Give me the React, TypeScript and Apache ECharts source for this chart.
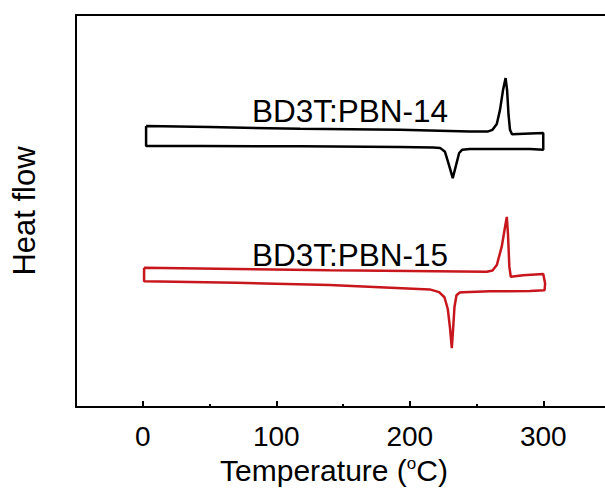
import React, { useEffect, useRef } from "react";
import * as echarts from "echarts";

// Tick values (°C)
const xMajorTicks = [0, 100, 200, 300];
const xMinorTicks = [50, 150, 250];

// BD3T:PBN-14 loop (heating along the upper trace, cooling along the lower trace)
const pbn14Temp = [
  2.5, 50, 117.8, 192.7, 245, 258.7, 262, 265.2, 267.6, 269.9, 271.8, 272.9, 274.0, 275.1, 276.6, 290.1, 300,
  300, 290, 260, 245, 239.2, 237, 234.7, 232.2, 229.4, 226.4, 222.7, 217.5, 192.7, 117.8, 42.9, 2.5, 2.5,
];
const pbn14Flow = [
  71.7, 71.4, 71.0, 70.7, 70.3, 70.3, 70.7, 72.2, 75.8, 80.9, 83.9, 80.9, 74.5, 70.7, 69.6, 69.8, 69.9,
  65.6, 65.8, 65.8, 65.8, 65.6, 64.8, 61.7, 58.4, 61.7, 65.1, 66.1, 66.2, 66.3, 66.5, 66.6, 66.6, 71.7,
];

// BD3T:PBN-15 loop
const pbn15Temp = [
  1, 70, 140, 200, 257.7, 262, 265.2, 268.9, 271.4, 272.7, 273.6, 274.6, 275.7, 285, 300, 301.4,
  301, 290, 260, 240, 237.5, 235, 233.5, 232.5, 231.5, 230.2, 228.5, 226, 222, 215, 140, 70, 1, 1,
];
const pbn15Flow = [
  35.5, 35.2, 34.9, 34.7, 34.5, 34.8, 36.2, 40.9, 46.0, 48.5, 44.0, 35.8, 33.2, 33.6, 33.9, 31.5,
  29.8, 29.6, 29.5, 29.3, 29.2, 28.5, 25.5, 20.0, 15.0, 20.0, 25.0, 28.0, 29.3, 30.0, 31.1, 31.7, 32.1, 35.5,
];

const seriesNames = ["BD3T:PBN-14", "BD3T:PBN-15"];
const seriesColors = ["#000000", "#c8161d"];

// axis range (the right end of the frame lies beyond the picture)
const xMin = -50;
const xMax = 350;

const FONT = "'Liberation Sans', Arial, sans-serif";

export default function App() {
  const ref = useRef<HTMLDivElement>(null);

  useEffect(() => {
    if (!ref.current) return;
    const chart = echarts.init(ref.current, undefined, { renderer: "svg" });
    const d14 = pbn14Temp.map((t, i) => [t, pbn14Flow[i]]);
    const d15 = pbn15Temp.map((t, i) => [t, pbn15Flow[i]]);

    const plainAxis = {
      type: "value",
      min: xMin,
      max: xMax,
      axisLabel: { show: false },
      splitLine: { show: false },
    };

    chart.setOption({
      animation: false,
      backgroundColor: "#ffffff",
      grid: { left: 76, top: 15, right: -5, bottom: 82, outerBoundsMode: "none", containLabel: false },
      xAxis: [
        {
          ...plainAxis,
          position: "bottom",
          name: "Temperature ({sup|o}C)",
          nameLocation: "middle",
          nameGap: 48,
          nameTextStyle: {
            fontFamily: FONT,
            fontSize: 30,
            color: "#000",
            padding: [0, 18, 0, 0],
            rich: {
              sup: { fontFamily: FONT, fontSize: 17, color: "#000", verticalAlign: "top", padding: [0, 0, 14, 0] },
            },
          },
          axisLine: { show: true, onZero: false, lineStyle: { color: "#000", width: 2 } },
          axisTick: {
            show: true,
            inside: true,
            length: 6,
            customValues: xMajorTicks,
            lineStyle: { color: "#000", width: 2 },
          },
          axisLabel: {
            show: true,
            customValues: xMajorTicks,
            fontFamily: FONT,
            fontSize: 28,
            color: "#000",
            margin: 15,
          },
        },
        {
          ...plainAxis,
          position: "bottom",
          axisLine: { show: false, onZero: false },
          axisTick: {
            show: true,
            inside: true,
            length: 3,
            customValues: xMinorTicks,
            lineStyle: { color: "#000", width: 2 },
          },
        },
        {
          ...plainAxis,
          position: "top",
          axisLine: { show: true, onZero: false, lineStyle: { color: "#000", width: 2 } },
          axisTick: { show: false },
        },
      ],
      yAxis: {
        type: "value",
        min: 0,
        max: 100,
        position: "left",
        name: "Heat flow",
        nameLocation: "middle",
        nameGap: 36,
        nameTextStyle: { fontFamily: FONT, fontSize: 31, color: "#000" },
        axisLine: { show: true, onZero: false, lineStyle: { color: "#000", width: 2 } },
        axisTick: { show: false },
        axisLabel: { show: false },
        splitLine: { show: false },
      },
      graphic: [
        {
          type: "text",
          left: 252,
          top: 95,
          style: { text: seriesNames[0], fontFamily: FONT, fontSize: 31.5, fill: "#000" },
        },
        {
          type: "text",
          left: 252,
          top: 239,
          style: { text: seriesNames[1], fontFamily: FONT, fontSize: 31.5, fill: "#000" },
        },
      ],
      series: [
        {
          name: seriesNames[0],
          type: "line",
          xAxisIndex: 0,
          data: d14,
          showSymbol: false,
          lineStyle: { color: seriesColors[0], width: 2.5 },
          itemStyle: { color: seriesColors[0] },
        },
        {
          name: seriesNames[1],
          type: "line",
          xAxisIndex: 0,
          data: d15,
          showSymbol: false,
          lineStyle: { color: seriesColors[1], width: 2.5 },
          itemStyle: { color: seriesColors[1] },
        },
      ],
    });
    return () => chart.dispose();
  }, []);

  return (
    <div
      ref={ref}
      style={{ position: "fixed", left: 0, top: 0, width: 605, height: 489, background: "#fff" }}
    />
  );
}
